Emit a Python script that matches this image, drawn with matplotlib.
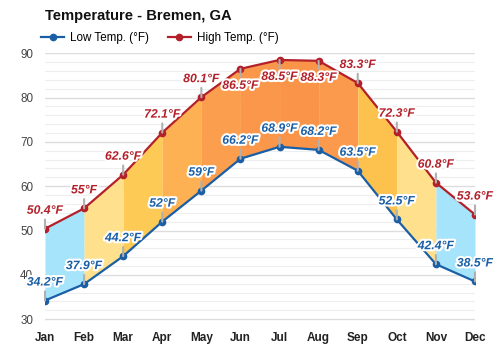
import matplotlib
matplotlib.use("Agg")
import matplotlib.pyplot as plt
import matplotlib.patheffects as pe

months = ['Jan', 'Feb', 'Mar', 'Apr', 'May', 'Jun', 'Jul', 'Aug', 'Sep', 'Oct', 'Nov', 'Dec']
high = [50.4, 55, 62.6, 72.1, 80.1, 86.5, 88.5, 88.3, 83.3, 72.3, 60.8, 53.6]
low = [34.2, 37.9, 44.2, 52, 59, 66.2, 68.9, 68.2, 63.5, 52.5, 42.4, 38.5]
seg_colors = ['#a6e4fb', '#ffe08c', '#fdca55', '#fdb152', '#fb9f4e', '#fa974b',
              '#fa9449', '#fb9a4c', '#fdc24e', '#ffe08c', '#a6e4fb']
below_high = ['Jun', 'Jul', 'Aug']

LOW_C = '#1a5fa6'
HIGH_C = '#b3202a'

plt.rcParams['font.family'] = ['Liberation Sans', 'DejaVu Sans']

fig = plt.figure(figsize=(5, 3.5), dpi=100)
ax = fig.add_axes([0.09, 0.0629, 0.86, 0.7848])
x = list(range(len(months)))

for i in range(len(months) - 1):
    ax.fill_between([x[i], x[i + 1]], [low[i], low[i + 1]], [high[i], high[i + 1]],
                    color=seg_colors[i], lw=0, zorder=1)

ax.plot(x, low, color=LOW_C, lw=1.6, marker='o', ms=4.5, zorder=4, label='Low Temp. (°F)')
ax.plot(x, high, color=HIGH_C, lw=1.6, marker='o', ms=4.5, zorder=4, label='High Temp. (°F)')

stroke = [pe.withStroke(linewidth=3, foreground='white')]

def lab(xi, yi, txt, color, below=False):
    off = -11 if below else 12
    ax.annotate(txt, (xi, yi), xytext=(0, off), textcoords='offset pixels',
                ha='center', va='top' if below else 'bottom', fontsize=8.8,
                fontweight='bold', fontstyle='italic', color=color,
                path_effects=stroke, zorder=6, annotation_clip=False,
                arrowprops=dict(arrowstyle='-', color='#b0b0b0', lw=1.5,
                                shrinkA=0, shrinkB=0,
                                relpos=(0.5, 1.0) if below else (0.5, 0.0)))

for i, m in enumerate(months):
    lab(x[i], high[i], f'{high[i]:g}°F', HIGH_C, below=m in below_high)
    lab(x[i], low[i], f'{low[i]:g}°F', LOW_C)

ax.set_xlim(0, 11)
ax.set_ylim(28, 90)
ax.set_xticks(x)
ax.set_xticklabels(months, fontsize=8.5, fontweight='bold', color='#222222')
ax.set_yticks([30, 40, 50, 60, 70, 80, 90])
ax.set_yticks(range(28, 91, 2), minor=True)
ax.tick_params(axis='y', labelsize=8.4, labelcolor='#444444', length=0, pad=8.5)
ax.tick_params(axis='y', which='minor', length=0)
ax.tick_params(axis='x', length=0, pad=3)
ax.grid(True, which='major', axis='y', color='#dddddd', lw=1, zorder=0)
ax.grid(True, which='minor', axis='y', color='#eeeeee', lw=0.8, zorder=0)
ax.set_axisbelow(True)
for s in ax.spines.values():
    s.set_visible(False)

fig.text(0.09, 1 - 16 / 350, 'Temperature - Bremen, GA', fontsize=10.6,
         fontweight='bold', color='#111111', va='center', ha='left')
fig.legend(loc='center left', bbox_to_anchor=(0.082, 1 - 38 / 350), ncol=2,
           frameon=False, fontsize=8.4, handlelength=2.0, handletextpad=0.5,
           columnspacing=1.6, borderpad=0, borderaxespad=0)

fig.savefig('out.png', dpi=100)
